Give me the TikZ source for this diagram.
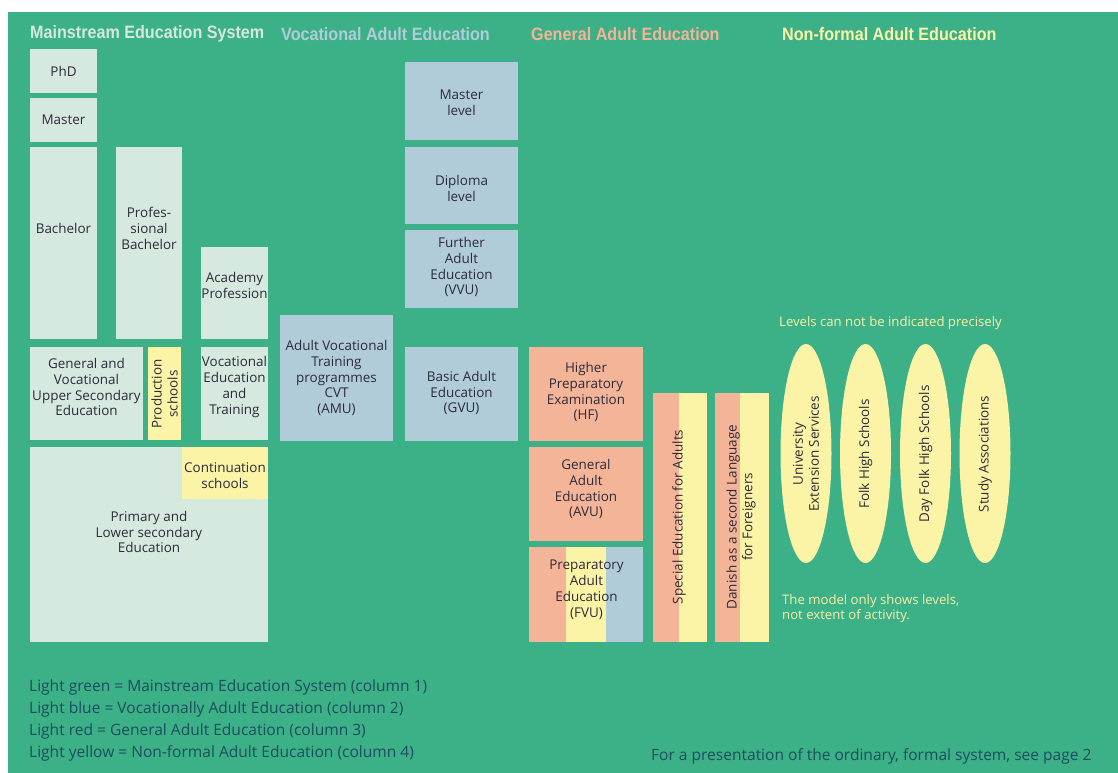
\documentclass[tikz,border=0pt]{standalone}
\usepackage{fontspec}
\setmainfont{Open Sans}
\newfontfamily\headfont[FakeStretch=0.9]{Liberation Sans}
\usetikzlibrary{shapes.geometric}
\definecolor{bg}{RGB}{60,176,135}
\definecolor{lgreen}{RGB}{213,233,223}
\definecolor{lblue}{RGB}{176,204,216}
\definecolor{lred}{RGB}{244,180,152}
\definecolor{lyellow}{RGB}{251,243,166}
\definecolor{ink}{RGB}{45,42,58}
\definecolor{legink}{RGB}{28,78,94}
\tikzset{
  blk/.style={draw=none, inner sep=0pt, outer sep=0pt},
  txt/.style={inner sep=0pt, align=center, text=ink, font=\fontsize{13.5}{16}\selectfont},
  head/.style={inner sep=0pt, anchor=west, font=\headfont\bfseries\fontsize{18}{20}\selectfont},
  note/.style={inner sep=0pt, anchor=west, align=left, text=lyellow, font=\fontsize{13.2}{15}\selectfont},
  legend/.style={inner sep=0pt, anchor=west, text=legink, font=\fontsize{15.6}{18}\selectfont},
  oval/.style={ellipse, draw=none, fill=lyellow, inner sep=0pt, minimum width=51bp, minimum height=219bp}
}
\begin{document}
\begin{tikzpicture}[x=1bp,y=-1bp]
\useasboundingbox (0,0) rectangle (1118,773);
\fill[white] (0,0) rectangle (1118,773);
\fill[bg] (8,12) rectangle (1118,773);

% headers
\node[head, text=lgreen] (h1) at (30,34) {Mainstream Education System};
\node[head, text=lblue] (h2) at (281,34) {Vocational Adult Education};
\node[head, text=lred] (h3) at (531,34) {General Adult Education};
\node[head, text=lyellow] (h4) at (782,34) {Non-formal Adult Education};

% column 1
\node[blk, fill=lgreen, minimum width=67bp, minimum height=44bp] (phd) at (63.5,71) {};
\node[txt] (phdt) at (63.5,71) {PhD};
\node[blk, fill=lgreen, minimum width=67bp, minimum height=44bp] (mas) at (63.5,120) {};
\node[txt] (mast) at (63.5,120) {Master};
\node[blk, fill=lgreen, minimum width=67bp, minimum height=192bp] (bach) at (63.5,243) {};
\node[txt] (bacht) at (63.5,228) {Bachelor};
\node[blk, fill=lgreen, minimum width=66bp, minimum height=192bp] (pbach) at (149,243) {};
\node[txt] (pbacht) at (149,228) {Profes-\\sional\\Bachelor};
\node[blk, fill=lgreen, minimum width=67bp, minimum height=92bp] (acad) at (234.5,293) {};
\node[txt] (acadt) at (234.5,285) {Academy\\Profession};
\node[blk, fill=lgreen, minimum width=113bp, minimum height=93bp] (genvoc) at (86.5,393.5) {};
\node[txt] (genvoct) at (86.5,387) {General and\\Vocational\\Upper Secondary\\Education};
\node[blk, fill=lyellow, minimum width=33bp, minimum height=93bp] (prod) at (164.5,393.5) {};
\node[txt, rotate=90] (prodt) at (164.5,394) {Production\\schools};
\node[blk, fill=lgreen, minimum width=67bp, minimum height=93bp] (vet) at (234.5,393.5) {};
\node[txt] (vett) at (234.5,387) {Vocational\\Education\\and\\Training};
\node[blk, fill=lgreen, minimum width=238bp, minimum height=195bp] (prim) at (149,544.5) {};
\node[txt] (primt) at (149,532) {Primary and\\Lower secondary\\Education};
\node[blk, fill=lyellow, minimum width=86bp, minimum height=52bp] (cont) at (225,473) {};
\node[txt] (contt) at (225,476) {Continuation\\schools};

% column 2
\node[blk, fill=lblue, minimum width=113bp, minimum height=78bp] (mlev) at (461.5,101) {};
\node[txt] (mlevt) at (461.5,103) {Master\\level};
\node[blk, fill=lblue, minimum width=113bp, minimum height=77bp] (dlev) at (461.5,185.5) {};
\node[txt] (dlevt) at (461.5,188) {Diploma\\level};
\node[blk, fill=lblue, minimum width=113bp, minimum height=78bp] (vvu) at (461.5,269) {};
\node[txt] (vvut) at (461.5,267) {Further\\Adult\\Education\\(VVU)};
\node[blk, fill=lblue, minimum width=113bp, minimum height=126bp] (amu) at (336.5,378) {};
\node[txt] (amut) at (336.5,378) {Adult Vocational\\Training\\programmes\\CVT\\(AMU)};
\node[blk, fill=lblue, minimum width=113bp, minimum height=94bp] (gvu) at (461.5,394) {};
\node[txt] (gvut) at (461.5,393) {Basic Adult\\Education\\(GVU)};

% column 3
\node[blk, fill=lred, minimum width=114bp, minimum height=94bp] (hf) at (586,394) {};
\node[txt] (hft) at (586,392) {Higher\\Preparatory\\Examination\\(HF)};
\node[blk, fill=lred, minimum width=114bp, minimum height=94bp] (avu) at (586,494) {};
\node[txt] (avut) at (586,489) {General\\Adult\\Education\\(AVU)};
\fill[lred] (529,547) rectangle (566,642);
\fill[lyellow] (566,547) rectangle (606,642);
\fill[lblue] (606,547) rectangle (643,642);
\node[txt] (fvut) at (586.5,590) {Preparatory\\Adult\\Education\\(FVU)};
\fill[lred] (653,393) rectangle (679,642);
\fill[lyellow] (679,393) rectangle (707,642);
\node[txt, rotate=90] (spect) at (679,517) {Special Education for Adults};
\fill[lred] (715,393) rectangle (740,642);
\fill[lyellow] (740,393) rectangle (769,642);
\node[txt, rotate=90] (dant) at (741,517) {Danish as a second Language\\for Foreigners};

% column 4
\node[note] (lev) at (779,323) {Levels can not be indicated precisely};
\node[oval] (e1) at (806,453.5) {};
\node[txt, rotate=90] (e1t) at (806,454) {University\\Extension Services};
\node[oval] (e2) at (865.5,453.5) {};
\node[txt, rotate=90] (e2t) at (865.5,454) {Folk High Schools};
\node[oval] (e3) at (925.5,453.5) {};
\node[txt, rotate=90] (e3t) at (925.5,454) {Day Folk High Schools};
\node[oval] (e4) at (985,453.5) {};
\node[txt, rotate=90] (e4t) at (985,454) {Study Associations};
\node[note] (model) at (782,609) {The model only shows levels,\\not extent of activity.};

% legend
\node[legend] (l1) at (29,687) {Light green = Mainstream Education System (column 1)};
\node[legend] (l2) at (29,709) {Light blue = Vocationally Adult Education (column 2)};
\node[legend] (l3) at (29,731) {Light red = General Adult Education (column 3)};
\node[legend] (l4) at (29,753) {Light yellow = Non-formal Adult Education (column 4)};
\node[legend] (pg) at (651,756) {For a presentation of the ordinary, formal system, see page 2};
\end{tikzpicture}
\end{document}
